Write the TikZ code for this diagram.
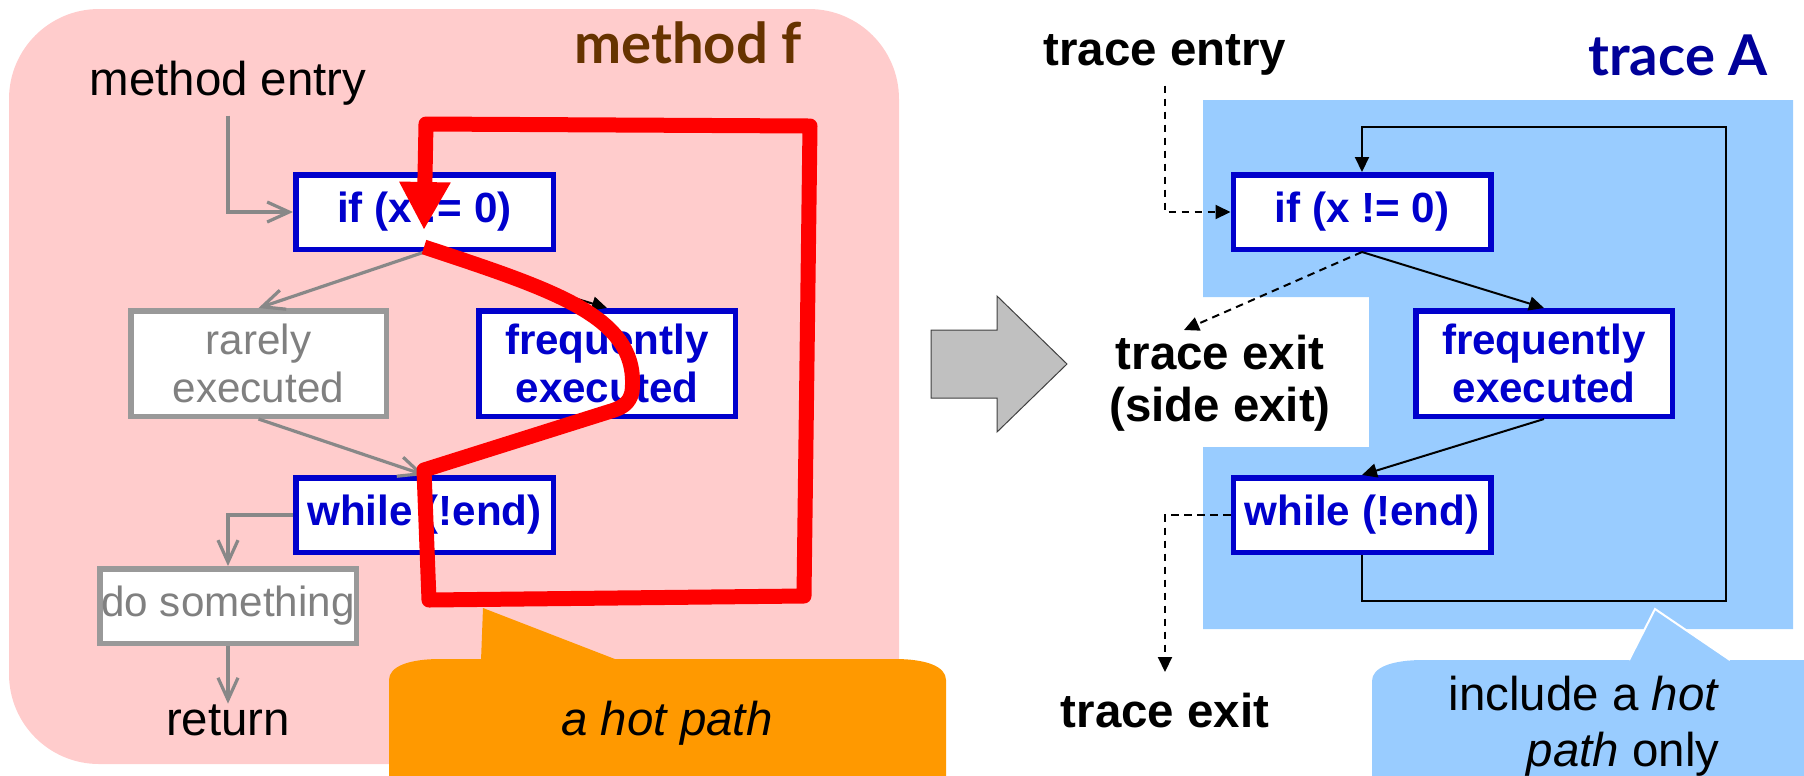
\documentclass[tikz,border=0pt]{standalone}
\usepackage{fontspec}
\setmainfont{Liberation Sans}
\newfontfamily\gillfont{Lato}
\usetikzlibrary{arrows.meta}
\definecolor{pinkbg}{HTML}{FFCCCC}
\definecolor{codeblue}{HTML}{0000CC}
\definecolor{boxgray}{HTML}{999999}
\definecolor{txtgray}{HTML}{808080}
\definecolor{arrowgray}{HTML}{888888}
\definecolor{hotred}{HTML}{FF0000}
\definecolor{hotorange}{HTML}{FF9900}
\definecolor{tracebg}{HTML}{99CCFF}
\definecolor{methodbrown}{HTML}{663300}
\definecolor{traceblue}{HTML}{000099}
\definecolor{shiftgray}{HTML}{C0C0C0}

\begin{document}
\begin{tikzpicture}[x=0.1mm,y=-0.1mm,
   codebox/.style={draw=codeblue,fill=white,line width=0.55mm,inner sep=0pt,align=center,
      text=codeblue,font=\fontsize{12}{13.5}\selectfont\bfseries},
   coldbox/.style={codebox,draw=boxgray,text=txtgray,font=\fontsize{12}{13.5}\selectfont},
   plaintext/.style={inner sep=0pt,align=center,font=\fontsize{13.5}{15}\selectfont},
   boldtext/.style={plaintext,font=\fontsize{13.5}{14.8}\selectfont\bfseries},
   titletext/.style={inner sep=0pt,font=\gillfont\bfseries\fontsize{16}{18}\selectfont},
   grayarrow/.style={draw=arrowgray,line width=0.32mm,-{Straight Barb[length=2.2mm,width=2mm]}},
   flow/.style={line width=0.2mm,-{Triangle[length=1.5mm,width=1.4mm]}},
   sideflow/.style={flow,dash pattern=on 0.75mm off 0.55mm},
   hotpath/.style={hotred,line width=1.5mm,line join=round,-{Triangle[length=4.8mm,width=4.8mm]}}]
   \useasboundingbox (0,0) rectangle (1804,775);
   \clip (0,0) rectangle (1804,775);
   %method f
   \fill[pinkbg,rounded corners=9mm] (9,9) rectangle (899,764);
   \node[titletext,anchor=base,text=methodbrown] (mtitle) at (688,63) {method f};
   \node[plaintext,anchor=base] (mentry) at (228,95) {method entry};
   \node[codebox,minimum width=25.75mm,minimum height=7.45mm] (ifL) at (424.5,212) {if (x != 0)};
   \node[coldbox,minimum width=25.55mm,minimum height=10.55mm] (rareL) at (258.5,363.5) {rarely\\executed};
   \node[codebox,minimum width=25.65mm,minimum height=10.55mm] (freqL) at (607,363.5) {frequently\\executed};
   \node[codebox,minimum width=25.75mm,minimum height=7.45mm] (whileL) at (424.5,515) {while (!end)};
   \node[coldbox,minimum width=25.65mm,minimum height=7.45mm] (doL) at (228,606) {do something};
   \node[plaintext,anchor=base] (ret) at (228,735) {return};
   %flow
   \draw[grayarrow,shorten <=1mm] (mentry.south) |- (ifL.west);
   \draw[grayarrow] (ifL.south) -- (rareL.north);
   \draw[flow] (ifL.south) -- (freqL.north);
   \draw[grayarrow] (rareL.south) -- (whileL.north);
   \draw[grayarrow] (whileL.west) -| (doL.north);
   \draw[grayarrow] (doL.south) -- (ret.north);
   %a hot path
   \fill[hotorange] (481,661) -- (483,608) -- (620,661) -- cycle;
   \fill[hotorange] (389,800) -- (389,680) .. controls (389,666) and (410,659) .. (440,659) -- (895,659)
      .. controls (925,659) and (946,666) .. (946,680) -- (946,800) -- cycle;
   \node[plaintext,anchor=base,font=\fontsize{13.5}{15}\selectfont\itshape] (hotnote) at (667,735) {a hot path};
   \coordinate (hotstart) at (424,247);
   \coordinate (hotend) at (424,230);
   \draw[hotpath] (hotstart) .. controls (560,292) and (640,318) .. (632,392)
      .. controls (629,404) and (622,408) .. (608,412) -- (424,470) -- (429,600)
      -- (804,596) -- (810,126) -- (426,124) -- (hotend);
   %shift arrow
   \draw[draw=black!75,fill=shiftgray,line width=0.1mm] (931,330) -- (997,330) -- (997,296) -- (1067,364)
      -- (997,432) -- (997,398) -- (931,398) -- cycle;
   %trace A
   \fill[tracebg] (1203,100) -- (1793,100) -- (1793,629) -- (1203,629) -- (1203,447)
      -- (1369,447) -- (1369,297) -- (1203,297) -- cycle;
   \node[titletext,anchor=base,text=traceblue] (ttitle) at (1678,75) {trace A};
   \node[boldtext,anchor=base] (tentry) at (1165,65) {trace entry};
   \node[codebox,minimum width=25.75mm,minimum height=7.45mm] (ifR) at (1362,212) {if (x != 0)};
   \node[codebox,minimum width=25.65mm,minimum height=10.55mm] (freqR) at (1544,363.5) {frequently\\executed};
   \node[codebox,minimum width=25.75mm,minimum height=7.45mm] (whileR) at (1362,515) {while (!end)};
   \node[boldtext,anchor=north] (sideexit) at (1220,334) {trace exit\\(side exit)};
   \node[boldtext,anchor=base] (texit) at (1165,727) {trace exit};
   \coordinate (sidetip) at (1184,330);
   \coordinate (exittip) at (1165,672);
   \coordinate (loopbr) at (1726,601);
   \coordinate (looptl) at (1362,127);
   \draw[sideflow,shorten <=1mm] (tentry.south) |- (ifR.west);
   \draw[flow] (ifR.south) -- (freqR.north);
   \draw[sideflow] (ifR.south) -- (sidetip);
   \draw[flow] (freqR.south) -- (whileR.north);
   \draw[flow] (whileR.south) |- (loopbr) |- (looptl) -- (ifR.north);
   \draw[sideflow] (whileR.west) -| (exittip);
   %include a hot path only
   \fill[tracebg] (1372,800) -- (1372,681) .. controls (1372,667) and (1393,660) .. (1423,660) -- (1800,660)
      .. controls (1830,660) and (1850,667) .. (1850,681) -- (1850,800) -- cycle;
   \fill[tracebg] (1628,662) -- (1655,609) -- (1733,662) -- cycle;
   \draw[white,line width=0.2mm] (1629,660) -- (1655,609) -- (1730,660);
   \node[plaintext,align=right,anchor=north east,font=\fontsize{13.5}{16}\selectfont] (tracenote) at (1720,675)
      {include a \textit{hot}\\\textit{path} only};
\end{tikzpicture}
\end{document}
